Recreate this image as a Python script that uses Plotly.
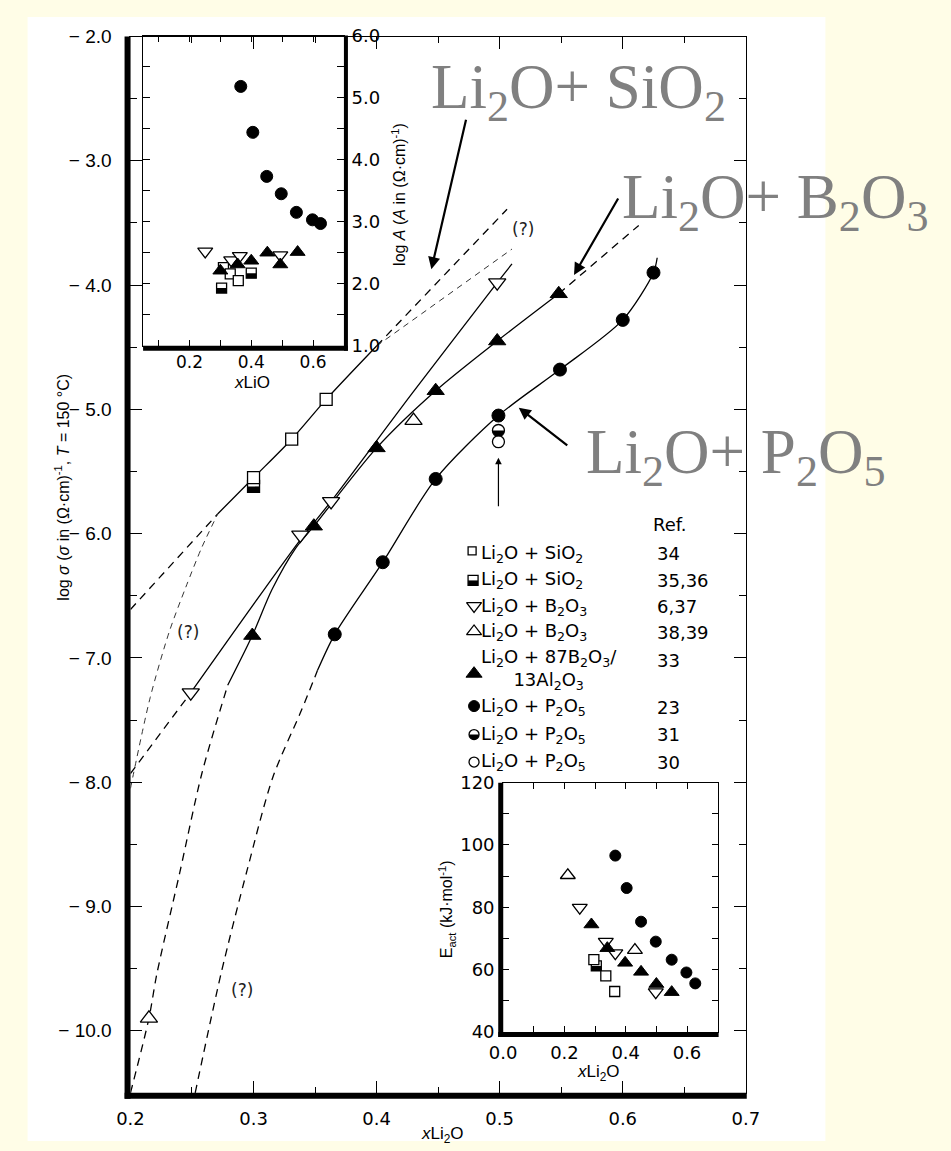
import math
import plotly.graph_objects as go

W, H = 951, 1151

# ---------------- main panel: log sigma (150 °C) vs x Li2O ----------------
sio2_x = [0.300, 0.331, 0.359]
sio2_y = [-5.55, -5.24, -4.92]
sio2_h_x = [0.300]
sio2_h_y = [-5.62]
b2o3_dn_x = [0.249, 0.338, 0.363, 0.498]
b2o3_dn_y = [-7.28, -6.01, -5.74, -3.98]
b2o3_up_x = [0.215, 0.430]
b2o3_up_y = [-9.90, -5.09]
bal_x = [0.299, 0.349, 0.400, 0.448, 0.498, 0.548]
bal_y = [-6.82, -5.94, -5.31, -4.85, -4.45, -4.07]
p2o5_x = [0.366, 0.405, 0.448, 0.499, 0.549, 0.600, 0.625]
p2o5_y = [-6.81, -6.23, -5.56, -5.05, -4.68, -4.28, -3.90]
p2o5_h_x = [0.499]
p2o5_h_y = [-5.17]
p2o5_o_x = [0.499]
p2o5_o_y = [-5.26]

# hand-drawn guide curves
sio2_fit_x = [0.271, 0.300, 0.331, 0.359, 0.400]
sio2_fit_y = [-5.84, -5.55, -5.24, -4.92, -4.49]
sio2_lo_x = [0.200, 0.271]
sio2_lo_y = [-6.61, -5.84]
sio2_hi_x = [0.400, 0.506]
sio2_hi_y = [-4.49, -3.39]
q_hi_x = [0.400, 0.510]
q_hi_y = [-4.49, -3.71]
q_lo_x = [0.200, 0.216, 0.2315, 0.245, 0.258, 0.271]
q_lo_y = [-8.05, -7.32, -6.79, -6.43, -6.11, -5.84]
b2o3_fit_x = [0.249, 0.338, 0.363, 0.429, 0.498, 0.510]
b2o3_fit_y = [-7.28, -6.05, -5.74, -4.87, -3.98, -3.83]
b2o3_lo_x = [0.200, 0.249]
b2o3_lo_y = [-7.93, -7.28]
bal_fit_x = [0.279, 0.299, 0.315, 0.334, 0.349, 0.400, 0.448, 0.498, 0.548]
bal_fit_y = [-7.22, -6.82, -6.45, -6.12, -5.94, -5.31, -4.85, -4.45, -4.07]
bal_lo_x = [0.200, 0.215, 0.2215, 0.240, 0.258, 0.279]
bal_lo_y = [-10.50, -9.90, -9.54, -8.73, -7.93, -7.22]
bal_hi_x = [0.548, 0.613]
bal_hi_y = [-4.07, -3.52]
p2o5_fit_x = [0.352, 0.366, 0.405, 0.448, 0.499, 0.549, 0.600, 0.625, 0.628]
p2o5_fit_y = [-7.10, -6.81, -6.23, -5.56, -5.05, -4.68, -4.28, -3.90, -3.78]
p2o5_lo_x = [0.2526, 0.2736, 0.295, 0.3157, 0.339, 0.352]
p2o5_lo_y = [-10.50, -9.54, -8.70, -7.96, -7.42, -7.10]

# ---------------- upper inset: log A vs x LiO ----------------
a_p2o5_x = [0.366, 0.405, 0.450, 0.497, 0.546, 0.598, 0.624]
a_p2o5_y = [5.18, 4.44, 3.73, 3.45, 3.15, 3.03, 2.97]
a_dn_x = [0.251, 0.335, 0.363, 0.494]
a_dn_y = [2.52, 2.38, 2.45, 2.46]
a_bal_x = [0.300, 0.356, 0.400, 0.452, 0.494, 0.550]
a_bal_y = [2.21, 2.31, 2.37, 2.50, 2.31, 2.51]
a_sq_x = [0.310, 0.332, 0.358]
a_sq_y = [2.26, 2.16, 2.05]
a_hsq_x = [0.304, 0.400]
a_hsq_y = [1.93, 2.17]

# ---------------- lower inset: E_act vs x Li2O ----------------
e_p2o5_x = [0.366, 0.403, 0.450, 0.498, 0.550, 0.598, 0.627]
e_p2o5_y = [96.6, 86.2, 75.4, 69.0, 63.2, 59.1, 55.6]
e_up_x = [0.211, 0.430]
e_up_y = [90.3, 66.3]
e_dn_x = [0.250, 0.335, 0.366, 0.498]
e_dn_y = [79.9, 69.0, 65.3, 52.8]
e_bal_x = [0.288, 0.340, 0.398, 0.450, 0.500, 0.550]
e_bal_y = [74.5, 66.9, 62.2, 59.3, 55.4, 52.8]
e_hsq_x = [0.304]
e_hsq_y = [61.2]
e_sq_x = [0.296, 0.335, 0.364]
e_sq_y = [63.2, 58.0, 53.0]

# ---------------- legend table ----------------
leg_labels = [
    "Li<sub>2</sub>O + SiO<sub>2</sub>",
    "Li<sub>2</sub>O + SiO<sub>2</sub>",
    "Li<sub>2</sub>O + B<sub>2</sub>O<sub>3</sub>",
    "Li<sub>2</sub>O + B<sub>2</sub>O<sub>3</sub>",
    "Li<sub>2</sub>O + 87B<sub>2</sub>O<sub>3</sub>/<br>13Al<sub>2</sub>O<sub>3</sub>",
    "Li<sub>2</sub>O + P<sub>2</sub>O<sub>5</sub>",
    "Li<sub>2</sub>O + P<sub>2</sub>O<sub>5</sub>",
    "Li<sub>2</sub>O + P<sub>2</sub>O<sub>5</sub>",
]
leg_refs = ["34", "35,36", "6,37", "38,39", "33", "23", "31", "30"]

main_yticks = [-10, -9, -8, -7, -6, -5, -4, -3, -2]
main_xticks = [0.2, 0.3, 0.4, 0.5, 0.6, 0.7]

FONT = "Liberation Sans, Arial, Helvetica, sans-serif"
WIDE = "DejaVu Sans, Verdana, sans-serif"
SERIF = "Liberation Serif, Times New Roman, serif"
GREY = "#808080"


def fx(p):
    return p / W


def fy(p):
    return 1 - p / H


fig = go.Figure()

OPEN = dict(color="white", line=dict(color="black", width=1.3))
FILL = dict(color="black", line=dict(color="black", width=1))


def line(x, y, xa="x", ya="y", dash="solid", width=1.3, color="black"):
    fig.add_trace(go.Scatter(x=x, y=y, xaxis=xa, yaxis=ya, mode="lines",
                             line=dict(color=color, width=width, dash=dash, shape="spline", smoothing=0.8),
                             hoverinfo="skip", showlegend=False))


def pts(x, y, symbol, size, style, xa="x", ya="y"):
    fig.add_trace(go.Scatter(x=x, y=y, xaxis=xa, yaxis=ya, mode="markers",
                             marker=dict(symbol=symbol, size=size, **style),
                             hoverinfo="skip", showlegend=False))


DASH = "8px,6px"
THIN = "6px,5px"

# guide curves of the main panel
line(sio2_lo_x, sio2_lo_y, dash=DASH)
line(sio2_fit_x, sio2_fit_y)
line(sio2_hi_x, sio2_hi_y, dash=DASH)
line(q_hi_x, q_hi_y, dash=THIN, width=1.0, color="#333")
line(q_lo_x, q_lo_y, dash=THIN, width=1.0, color="#333")
line(b2o3_lo_x, b2o3_lo_y, dash=DASH)
line(b2o3_fit_x, b2o3_fit_y)
line(bal_lo_x, bal_lo_y, dash=DASH)
line(bal_fit_x, bal_fit_y)
line(bal_hi_x, bal_hi_y, dash=DASH)
line(p2o5_lo_x, p2o5_lo_y, dash=DASH)
line(p2o5_fit_x, p2o5_fit_y)

# data points of the main panel
pts(sio2_h_x, sio2_h_y, "square", 12, OPEN)
pts(sio2_x, sio2_y, "square", 12, OPEN)
pts(b2o3_dn_x, b2o3_dn_y, "triangle-down", 15, OPEN)
pts(b2o3_up_x, b2o3_up_y, "triangle-up", 15, OPEN)
pts(bal_x, bal_y, "triangle-up", 15, FILL)
pts(p2o5_x, p2o5_y, "circle", 13, FILL)
pts(p2o5_h_x, p2o5_h_y, "circle", 12, OPEN)
pts(p2o5_o_x, p2o5_o_y, "circle", 12, OPEN)

# upper inset points
pts(a_p2o5_x, a_p2o5_y, "circle", 12, FILL, "x2", "y2")
pts(a_hsq_x, a_hsq_y, "square", 10, OPEN, "x2", "y2")
pts(a_sq_x, a_sq_y, "square", 10, OPEN, "x2", "y2")
pts(a_dn_x, a_dn_y, "triangle-down", 13, OPEN, "x2", "y2")
pts(a_bal_x, a_bal_y, "triangle-up", 13, FILL, "x2", "y2")

# lower inset points
pts(e_p2o5_x, e_p2o5_y, "circle", 11, FILL, "x3", "y3")
pts(e_up_x, e_up_y, "triangle-up", 13, OPEN, "x3", "y3")
pts(e_dn_x, e_dn_y, "triangle-down", 13, OPEN, "x3", "y3")
pts(e_bal_x, e_bal_y, "triangle-up", 13, FILL, "x3", "y3")
pts(e_hsq_x, e_hsq_y, "square", 10, OPEN, "x3", "y3")
pts(e_sq_x, e_sq_y, "square", 10, OPEN, "x3", "y3")

# legend symbols (helper axes x4/y4 measured in page pixels)
leg_sym_x = [472, 473, 474, 474, 474, 474, 474, 474]
leg_sym_y = [550, 580, 606, 632, 675, 708, 737, 765]
leg_sym = ["square", "square", "triangle-down", "triangle-up", "triangle-up", "circle", "circle", "circle"]
leg_size = [8, 10, 13, 13, 14, 11, 10, 10]
leg_style = [OPEN, OPEN, OPEN, OPEN, FILL, FILL, OPEN, OPEN]
for i in range(8):
    pts([leg_sym_x[i]], [leg_sym_y[i]], leg_sym[i], leg_size[i], leg_style[i], "x4", "y4")

shapes = []


def half_square(xa, ya, x, y, size):
    r = size / 2
    return dict(type="rect", xref=xa, yref=ya, xsizemode="pixel", ysizemode="pixel",
                xanchor=x, yanchor=y, x0=-r, x1=r, y0=-r, y1=0,
                fillcolor="black", line=dict(width=0), layer="above")


def half_circle(xa, ya, x, y, size):
    r = size / 2
    p = []
    for k in range(0, 19):
        a = math.pi + math.pi * k / 18
        p.append(f"{r * math.cos(a):.2f},{r * math.sin(a):.2f}")
    path = "M" + " L".join(p) + " Z"
    return dict(type="path", xref=xa, yref=ya, xsizemode="pixel", ysizemode="pixel",
                xanchor=x, yanchor=y, path=path,
                fillcolor="black", line=dict(width=0), layer="above")


for x, y in zip(sio2_h_x, sio2_h_y):
    shapes.append(half_square("x", "y", x, y, 12))
for x, y in zip(p2o5_h_x, p2o5_h_y):
    shapes.append(half_circle("x", "y", x, y, 12))
for x, y in zip(a_hsq_x, a_hsq_y):
    shapes.append(half_square("x2", "y2", x, y, 10))
for x, y in zip(e_hsq_x, e_hsq_y):
    shapes.append(half_square("x3", "y3", x, y, 10))
shapes.append(half_square("x4", "y4", leg_sym_x[1], leg_sym_y[1], 10))
shapes.append(half_circle("x4", "y4", leg_sym_x[6], leg_sym_y[6], 10))

# white page behind the figure
shapes.insert(0, dict(type="rect", xref="paper", yref="paper", x0=fx(14), x1=fx(836),
                      y0=0, y1=fy(6), fillcolor="white", line=dict(width=0), layer="below"))


def bar(x0, y0, x1, y1, w):
    shapes.append(dict(type="line", xref="paper", yref="paper", x0=fx(x0), y0=fy(y0),
                       x1=fx(x1), y1=fy(y1), line=dict(color="black", width=w), layer="above"))


# heavy frame sides
bar(117, 26, 117, 1108, 6)      # main left
bar(114, 1105, 755, 1105, 6)    # main bottom
bar(342, 25, 342, 346, 4)       # upper inset right
bar(133, 343.5, 344, 343.5, 5)  # upper inset bottom
bar(501.5, 786, 501.5, 1045, 5)  # lower inset left
bar(499, 1042.5, 726, 1042.5, 5)  # lower inset bottom

annotations = []


def text(x, y, s, size=17, xanchor="center", yanchor="middle", angle=0, family=FONT, color="black"):
    annotations.append(dict(xref="paper", yref="paper", x=fx(x), y=fy(y), text=s, showarrow=False,
                            xanchor=xanchor, yanchor=yanchor, textangle=angle,
                            font=dict(family=family, size=size, color=color)))


# axis titles
text(442, 1145, "<i>x</i>Li<sub>2</sub>O", 17)
text(50, 485, "log <i>σ</i> (<i>σ</i> in (Ω·cm)<sup>-1</sup>, <i>T</i> = 150 °C)", 16, angle=-90)
text(245, 378, "<i>x</i>LiO", 17)
text(396, 187, "log <i>A</i> (<i>A</i> in (Ω·cm)<sup>-1</sup>)", 16, angle=-90)
text(602, 1082, "<i>x</i>Li<sub>2</sub>O", 17)
text(446, 915, "E<sub>act</sub> (kJ·mol<sup>-1</sup>)", 16, angle=-90)

# legend table
text(656, 523, "Ref.", 18, xanchor="left", family=WIDE)
leg_text_y = [553, 580, 607, 633, 671, 709, 737, 765]
leg_ref_y = [553, 580, 607, 633, 662, 709, 737, 765]
for i in range(8):
    text(479, leg_text_y[i], leg_labels[i], 18, xanchor="left", family=WIDE)
    text(660, leg_ref_y[i], leg_refs[i], 18, xanchor="left", family=WIDE)

# series names in large grey type
text(428, 82, "Li<sub>2</sub>O+ SiO<sub>2</sub>", 63, xanchor="left", family=SERIF, color=GREY)
text(624, 194, "Li<sub>2</sub>O+ B<sub>2</sub>O<sub>3</sub>", 63, xanchor="left", family=SERIF, color=GREY)
text(587, 454, "Li<sub>2</sub>O+ P<sub>2</sub>O<sub>5</sub>", 63, xanchor="left", family=SERIF, color=GREY)

# "(?)" marks on uncertain extrapolations
q_marks = [(0.247, -6.79), (0.291, -9.67), (0.519, -3.55)]
for qx, qy in q_marks:
    annotations.append(dict(xref="x", yref="y", x=qx, y=qy, text="(?)", showarrow=False,
                            font=dict(family=WIDE, size=17, color="#222")))


def arrow(x, y, ax, ay, w=2.2):
    annotations.append(dict(xref="x", yref="y", x=x, y=y, ax=ax, ay=ay, text="", showarrow=True,
                            arrowhead=2, arrowsize=1.1, arrowwidth=w, arrowcolor="black"))


arrow(0.4445, -3.872, 35, -151)
arrow(0.5604, -3.919, 45, -78)
arrow(0.5155, -4.986, 50, 39)
arrow(0.499, -5.389, 0, 50, 1.2)

tickfont = dict(family=WIDE, size=18, color="black")
smallfont = dict(family=WIDE, size=17, color="black")
yfont = dict(family=FONT, size=19, color="black")
base = dict(showline=True, linecolor="black", linewidth=1, mirror="ticks", ticks="inside",
            tickcolor="black", tickwidth=1.2, showgrid=False, zeroline=False, tickfont=tickfont,
            fixedrange=True)

fig.update_layout(
    width=W, height=H, autosize=False,
    margin=dict(l=0, r=0, t=0, b=0),
    paper_bgcolor="#FFFDE7", plot_bgcolor="rgba(0,0,0,0)",
    showlegend=False,
    shapes=shapes, annotations=annotations,
    xaxis=dict(base, domain=[fx(120), fx(754)], range=[0.2, 0.7], anchor="y",
               tickvals=main_xticks, ticktext=[f"{v:.1f}" for v in main_xticks], ticklen=12,
               ticklabelstandoff=10,
               minor=dict(dtick=0.05, tick0=0.2, ticks="inside", ticklen=6, tickcolor="black", tickwidth=1)),
    yaxis=dict(base, domain=[fy(1102), fy(26)], range=[-10.5, -2.0], anchor="x",
               tickvals=main_yticks, ticktext=[f"\u2212 {abs(v):.1f}" for v in main_yticks], ticklen=12,
               ticklabelstandoff=14, tickfont=yfont,
               minor=dict(dtick=0.5, tick0=-2, ticks="inside", ticklen=7, tickcolor="black", tickwidth=1)),
    xaxis2=dict(base, domain=[fx(133), fx(340)], range=[0.05, 0.7], anchor="y2",
                tickvals=[0.1, 0.2, 0.3, 0.4, 0.5, 0.6], ticktext=["", "0.2", "", "0.4", "", "0.6"],
                ticklen=6, ticklabelstandoff=1, tickfont=smallfont),
    yaxis2=dict(base, domain=[fy(341), fy(25)], range=[1.0, 6.0], anchor="x2", side="right",
                tickvals=[1, 1.5, 2, 2.5, 3, 3.5, 4, 4.5, 5, 5.5, 6],
                ticktext=["1.0", "", "2.0", "", "3.0", "", "4.0", "", "5.0", "", "6.0"],
                ticklen=7, ticklabelstandoff=3),
    xaxis3=dict(base, domain=[fx(504), fx(725)], range=[0.0, 0.7], anchor="y3",
                tickvals=[0.0, 0.1, 0.2, 0.3, 0.4, 0.5, 0.6, 0.7],
                ticktext=["0.0", "", "0.2", "", "0.4", "", "0.6", ""], ticklen=6,
                ticklabelstandoff=4),
    yaxis3=dict(base, domain=[fy(1040), fy(786)], range=[40, 120], anchor="x3",
                tickvals=[40, 50, 60, 70, 80, 90, 100, 110, 120],
                ticktext=["40", "", "60", "", "80", "", "100", "", "120"], ticklen=6,
                ticklabelstandoff=4),
    xaxis4=dict(domain=[0, 1], range=[0, W], visible=False, fixedrange=True, anchor="y4"),
    yaxis4=dict(domain=[0, 1], range=[H, 0], visible=False, fixedrange=True, anchor="x4"),
)

fig.write_html("out.html")
